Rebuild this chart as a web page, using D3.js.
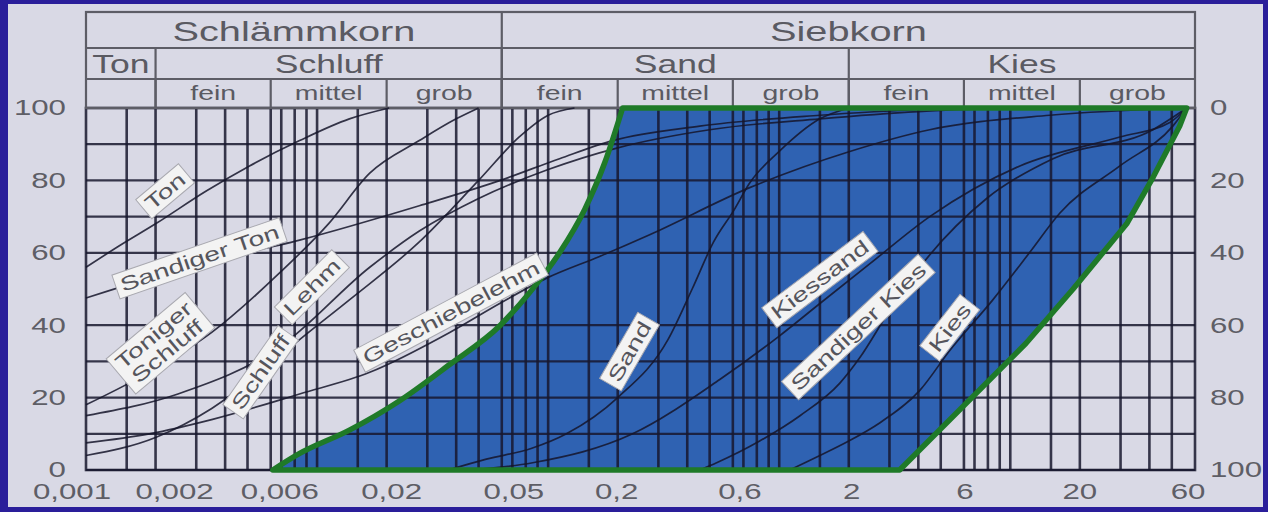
<!DOCTYPE html>
<html>
<head>
<meta charset="utf-8">
<script src="https://cdn.jsdelivr.net/npm/d3@7"></script>
<style>
  html, body { margin: 0; padding: 0; background: #2a1e9a; }
  svg { display: block; }
</style>
</head>
<body>
<svg id="chart" width="1268" height="512"></svg>
<script>
// ---- Grain size axis (mm) ----
const tickValues = [0.001, 0.002, 0.0063, 0.02, 0.063, 0.2, 0.63, 2, 6.3, 20, 63];
const tickLabels = ["0,001", "0,002", "0,006", "0,02", "0,05", "0,2", "0,6", "2", "6", "20", "60"];
const gridMultipliers = [1, 1.5, 2, 3, 4, 5, 6.3, 7, 8, 9];
const gridDecades = [0.001, 0.01, 0.1, 1, 10];

// ---- Passing percentage ----
const leftTicks = [0, 20, 40, 60, 80, 100];
const rightTicks = [0, 20, 40, 60, 80, 100];
const gridPercents = [0, 10, 20, 30, 40, 60, 70, 80, 90, 100];

// ---- Header classification ----
const headerRow1 = [
  { label: "Schlämmkorn", from: 0.001, to: 0.063 },
  { label: "Siebkorn", from: 0.063, to: 63 }
];
const headerRow2 = [
  { label: "Ton", from: 0.001, to: 0.002 },
  { label: "Schluff", from: 0.002, to: 0.063 },
  { label: "Sand", from: 0.063, to: 2 },
  { label: "Kies", from: 2, to: 63 }
];
const headerRow3 = [
  { label: "", from: 0.001, to: 0.002 },
  { label: "fein", from: 0.002, to: 0.0063 },
  { label: "mittel", from: 0.0063, to: 0.02 },
  { label: "grob", from: 0.02, to: 0.063 },
  { label: "fein", from: 0.063, to: 0.2 },
  { label: "mittel", from: 0.2, to: 0.63 },
  { label: "grob", from: 0.63, to: 2 },
  { label: "fein", from: 2, to: 6.3 },
  { label: "mittel", from: 6.3, to: 20 },
  { label: "grob", from: 20, to: 63 }
];

// ---- Envelope of the shaded zone [d mm, % passing] ----
const envelopeLeft = [[0.00643, 0], [0.00837, 4.5], [0.0138, 11], [0.0226, 19], [0.0372, 29],
  [0.0621, 40], [0.0831, 49], [0.112, 60], [0.144, 72], [0.176, 85], [0.21, 100]];
const envelopeRight = [[58, 100], [54.1, 95], [41.6, 81], [31.9, 68], [18.7, 50], [11.7, 35], [3.32, 0]];

// ---- Grading curves [d mm, % passing] ----
const ton = [[0.001, 56], [0.0014, 62], [0.002, 68], [0.0033, 77], [0.0051, 84], [0.0084, 91], [0.0138, 97], [0.0205, 100]];
const sandigerTon = [[0.001, 47.5], [0.0031, 57], [0.0084, 63.5], [0.0277, 73], [0.0621, 80], [0.112, 86], [0.19, 91], [0.453, 95], [1.5, 98], [5.47, 100]];
const tonigerSchluff = [[0.001, 18], [0.002, 28], [0.0035, 38], [0.0069, 54.5], [0.0112, 68], [0.0169, 82], [0.0277, 91], [0.04, 97], [0.05, 100]];
const lehm = [[0.001, 15], [0.0025, 21], [0.0069, 34], [0.0169, 56], [0.0277, 66], [0.05, 75], [0.1, 83], [0.2, 89], [0.5, 94], [1.5, 97], [4, 99], [10, 100]];
const schluff = [[0.001, 4], [0.002, 9], [0.0035, 17], [0.0057, 27], [0.0084, 36], [0.0138, 47], [0.0277, 63], [0.05, 80], [0.075, 92], [0.1, 98], [0.13, 100]];
const geschiebelehm = [[0.001, 7.5], [0.00188, 10], [0.00353, 14], [0.0084, 21], [0.0169, 27], [0.0375, 38], [0.0617, 46], [0.0985, 53], [0.167, 59], [0.275, 65], [0.745, 78], [2.02, 88], [4.48, 94], [14.8, 98], [58, 100]];
const sand = [[0.037, 0], [0.054, 3], [0.085, 6], [0.12, 10], [0.2, 20], [0.33, 36], [0.42, 50], [0.52, 63], [0.64, 72], [0.74, 79], [1.0, 88], [1.5, 97], [2.0, 100]];
const kiessand = [[0.0457, 0], [0.0857, 2], [0.232, 10], [0.553, 25], [1.0, 37], [1.5, 46], [2.47, 57], [4.48, 70], [11, 84], [29.8, 92], [49, 96], [58, 100]];
const sandigerKies = [[0.453, 0], [0.536, 2], [0.823, 8], [1.23, 15], [1.83, 24], [2.23, 31], [3.0, 44], [4.06, 56], [7.9, 75], [15.3, 86], [41.4, 94], [58, 100]];
const kies = [[1.11, 0], [1.5, 4], [2.0, 8], [2.72, 13], [4.06, 22], [5.47, 33], [8.4, 47], [12.1, 60], [16.4, 71], [29.8, 84], [50.5, 95], [58, 100]];

const curves = [ton, sandigerTon, tonigerSchluff, lehm, schluff, geschiebelehm, sand, kiessand, sandigerKies, kies];

// ---- Curve labels: anchor [d mm, %], angle in degrees ----
const curveLabels = [
  { lines: ["Ton"], d: 0.0022, p: 77, angle: -40 },
  { lines: ["Sandiger Ton"], d: 0.0031, p: 58.5, angle: -19 },
  { lines: ["Toniger", "Schluff"], d: 0.0021, p: 35, angle: -40 },
  { lines: ["Lehm"], d: 0.0095, p: 50.5, angle: -45 },
  { lines: ["Schluff"], d: 0.0057, p: 27, angle: -55 },
  { lines: ["Geschiebelehm"], d: 0.038, p: 43.5, angle: -28 },
  { lines: ["Sand"], d: 0.225, p: 32.7, angle: -60 },
  { lines: ["Kiessand"], d: 1.5, p: 52.6, angle: -37 },
  { lines: ["Sandiger Kies"], d: 2.2, p: 39.5, angle: -43 },
  { lines: ["Kies"], d: 5.47, p: 39.3, angle: -52 }
];

// ---- Layout ----
const W = 1268, H = 512;
const STRETCH = 1.42;             // horizontal widening of all lettering
const plot = { left: 86, right: 1195, top: 108, bottom: 470 };
const head = { top: 12, row1: 48, row2: 79 };
const tickLabelShift = [-14, 19, 9, 5, 12, -1, 7, 3, 1, 0, -7];

const svg = d3.select("#chart");
const x = d3.scaleLog().domain([0.001, 63]).range([plot.left, plot.right]);
const y = d3.scaleLinear().domain([0, 100]).range([plot.bottom, plot.top]);
const yRight = d3.scaleLinear().domain([100, 0]).range([plot.bottom, plot.top]);

// background frame and panel
svg.append("rect").attr("width", W).attr("height", H).attr("fill", "#2a1e9a");
svg.append("rect").attr("x", 8).attr("y", 4).attr("width", W - 13).attr("height", H - 9).attr("fill", "#d9d9e5");

function stretchedText(g, str, tx, ty, opts) {
  const o = Object.assign({ size: 22, anchor: "middle", angle: 0, fill: "#5a5a62" }, opts || {});
  return g.append("text")
    .attr("transform", `translate(${tx},${ty}) rotate(${o.angle}) scale(${STRETCH},1)`)
    .attr("text-anchor", o.anchor)
    .attr("dominant-baseline", "central")
    .attr("font-family", "Liberation Sans, Arial, sans-serif")
    .attr("font-size", o.size)
    .attr("fill", o.fill)
    .text(str);
}

// shaded zone
const lineGen = d3.line().x(d => x(d[0])).y(d => y(d[1])).curve(d3.curveMonotoneX);
const leftPath = lineGen(envelopeLeft);
const rightPath = d3.line().x(d => x(d[0])).y(d => y(d[1])).curve(d3.curveLinear)(envelopeRight);
const zonePath = leftPath + "L" + rightPath.slice(1) + "Z";
svg.append("path").attr("d", zonePath).attr("fill", "#2f62b2");

// grid
const gGrid = svg.append("g").attr("stroke", "#18182e").attr("stroke-opacity", 0.85);
const verticals = [];
gridDecades.forEach(dec => gridMultipliers.forEach(m => {
  const v = dec * m;
  if (v > 0.001 && v < 63) verticals.push(v);
}));
gGrid.selectAll("line.v").data(verticals).join("line")
  .attr("x1", d => x(d)).attr("x2", d => x(d))
  .attr("y1", plot.top).attr("y2", plot.bottom)
  .attr("stroke-width", 2.6);
gGrid.selectAll("line.h").data(gridPercents).join("line")
  .attr("x1", plot.left).attr("x2", plot.right)
  .attr("y1", d => y(d)).attr("y2", d => y(d))
  .attr("stroke-width", 2.2);
gGrid.append("rect")
  .attr("x", plot.left).attr("y", plot.top)
  .attr("width", plot.right - plot.left).attr("height", plot.bottom - plot.top)
  .attr("fill", "none").attr("stroke-width", 2.6);

// header table
const gHead = svg.append("g");
const tableStroke = "#5d5d66";
gHead.append("rect")
  .attr("x", x(0.001)).attr("y", head.top)
  .attr("width", x(63) - x(0.001)).attr("height", plot.top - head.top)
  .attr("fill", "none").attr("stroke", tableStroke).attr("stroke-width", 2.2);
[head.row1, head.row2].forEach(yy => gHead.append("line")
  .attr("x1", x(0.001)).attr("x2", x(63)).attr("y1", yy).attr("y2", yy)
  .attr("stroke", tableStroke).attr("stroke-width", 2.2));
headerRow1.slice(1).forEach(c => gHead.append("line")
  .attr("x1", x(c.from)).attr("x2", x(c.from)).attr("y1", head.top).attr("y2", plot.top)
  .attr("stroke", tableStroke).attr("stroke-width", 2.2));
headerRow2.slice(1).forEach(c => gHead.append("line")
  .attr("x1", x(c.from)).attr("x2", x(c.from)).attr("y1", head.row1).attr("y2", plot.top)
  .attr("stroke", tableStroke).attr("stroke-width", 2.2));
headerRow3.slice(1).forEach(c => gHead.append("line")
  .attr("x1", x(c.from)).attr("x2", x(c.from)).attr("y1", head.row2).attr("y2", plot.top)
  .attr("stroke", tableStroke).attr("stroke-width", 2.2));
headerRow1.forEach(c => stretchedText(gHead, c.label, (x(c.from) + x(c.to)) / 2, (head.top + head.row1) / 2 + 1, { size: 28 }));
headerRow2.forEach(c => stretchedText(gHead, c.label, (x(c.from) + x(c.to)) / 2, (head.row1 + head.row2) / 2 + 1, { size: 25 }));
headerRow3.forEach(c => stretchedText(gHead, c.label, (x(c.from) + x(c.to)) / 2, (head.row2 + plot.top) / 2, { size: 20 }));

// grading curves
const gCurves = svg.append("g").attr("fill", "none").attr("stroke", "#15152a")
  .attr("stroke-opacity", 0.85).attr("stroke-width", 1.7);
gCurves.selectAll("path").data(curves).join("path").attr("d", lineGen);

// envelope outline
svg.append("path").attr("d", zonePath).attr("fill", "none")
  .attr("stroke", "#1f7a28").attr("stroke-width", 5.5).attr("stroke-linejoin", "round");

// curve labels
const gLabels = svg.append("g");
curveLabels.forEach(l => {
  const g = gLabels.append("g")
    .attr("transform", `translate(${x(l.d)},${y(l.p)}) rotate(${l.angle})`);
  const size = 20, lh = 21;
  const texts = l.lines.map((s, i) => g.append("text")
    .attr("transform", `translate(0,${(i - (l.lines.length - 1) / 2) * lh}) scale(${STRETCH},1)`)
    .attr("text-anchor", "middle").attr("dominant-baseline", "central")
    .attr("font-family", "Liberation Sans, Arial, sans-serif")
    .attr("font-size", size).attr("fill", "#55555c").text(s));
  const wmax = d3.max(texts, t => t.node().getComputedTextLength()) * STRETCH;
  const hBox = l.lines.length * lh + 4;
  g.insert("rect", "text")
    .attr("x", -wmax / 2 - 5).attr("y", -hBox / 2)
    .attr("width", wmax + 10).attr("height", hBox)
    .attr("fill", "#f3f3f3").attr("stroke", "#a9a9b0").attr("stroke-width", 1);
});

// axis labels
const gAxes = svg.append("g");
tickValues.forEach((v, i) => stretchedText(gAxes, tickLabels[i], x(v) + tickLabelShift[i], 492, { size: 22, fill: "#5e5e66" }));
leftTicks.forEach(v => stretchedText(gAxes, String(v), 66, y(v), { size: 22, anchor: "end", fill: "#5e5e66" }));
rightTicks.forEach(v => stretchedText(gAxes, String(v), 1210, yRight(v), { size: 22, anchor: "start", fill: "#5e5e66" }));
</script>
</body>
</html>
